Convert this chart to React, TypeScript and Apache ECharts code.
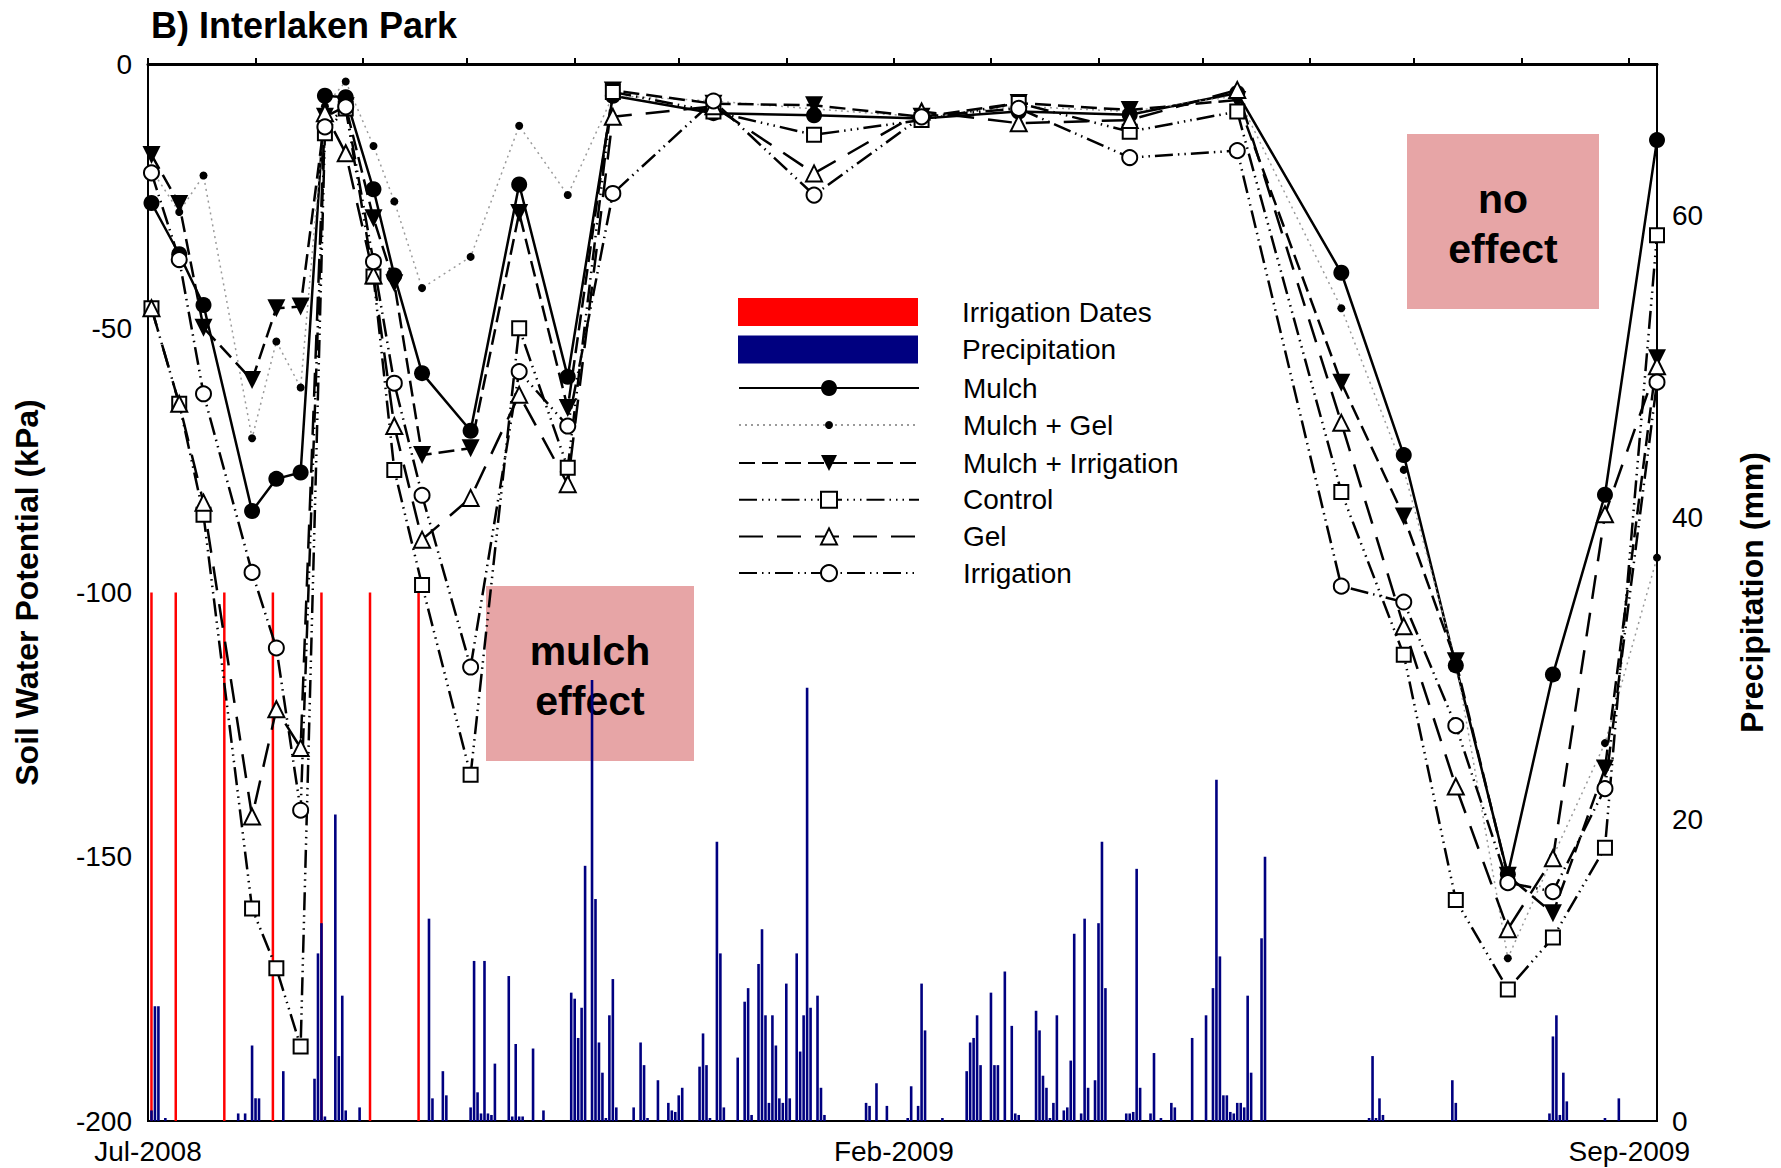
import React, { useEffect, useRef } from 'react';
import * as echarts from 'echarts';

// ---------- data ----------
const START_DATE = '2008-07-01';
const END_DATE = '2009-09-09';

const xLabelDates = ['2008-07-01', '2009-02-01', '2009-09-01'];
const xLabelTexts = ['Jul-2008', 'Feb-2009', 'Sep-2009'];

const measureDates = [
  '2008-07-02', '2008-07-10', '2008-07-17', '2008-07-31', '2008-08-07', '2008-08-14', '2008-08-21',
  '2008-08-27', '2008-09-04', '2008-09-10', '2008-09-18', '2008-10-02', '2008-10-16', '2008-10-30',
  '2008-11-12', '2008-12-11', '2009-01-09', '2009-02-09', '2009-03-09', '2009-04-10', '2009-05-11',
  '2009-06-10', '2009-06-28', '2009-07-13', '2009-07-28', '2009-08-10', '2009-08-25', '2009-09-09',
];

const mulch = [-26.3, -36, -45.6, -84.6, -78.5, -77.3, -6, -6.3, -23.7, -40, -58.5, -69.4, -22.8, -59.2,
  -6, -9.3, -9.7, -10.3, -9, -9.6, -5.5, -39.5, -74, -113.8, -153.3, -115.5, -81.5, -14.4];
const mulchGel = [-20, -28, -21.1, -70.8, -52.5, -61.2, -8, -3.3, -15.5, -26, -42.4, -36.5, -11.7, -24.8,
  -6, -7, -8.5, -10, -8, -9, -6, -46.2, -76.8, -113, -169.2, -150, -128.5, -93.4];
const mulchIrrigation = [-17.2, -26.5, -49.9, -59.8, -46.2, -45.9, -10, -8, -29.2, -41.5, -74, -72.7, -28.2, -65.1,
  -5, -7.5, -7.8, -10, -7.4, -8.7, -6.8, -60.3, -85.6, -113, -153.6, -160.7, -133.3, -55.7];
const control = [-46.2, -64.3, -85.3, -159.8, -171.1, -185.9, -13.1, -8.4, -40.2, -76.8, -98.6, -134.5, -50, -76.4,
  -5.3, -9, -13.4, -10.6, -7.4, -12.8, -9, -81, -111.8, -158.2, -175.1, -165.3, -148.3, -32.4];
const gel = [-46.2, -64.3, -83, -142.4, -122.1, -129.4, -9.3, -16.9, -40, -68.5, -90, -82.1, -62.6, -79.5,
  -10, -8, -20.7, -9, -11.2, -10.6, -4.9, -67.9, -106.4, -136.7, -163.7, -150.3, -85.2, -57.2];
const irrigation = [-20.6, -37, -62.4, -96.2, -110.5, -141.2, -11.9, -8.1, -37.4, -60.4, -81.6, -114.1, -58.2, -68.5,
  -24.5, -7, -24.8, -10, -8.4, -17.7, -16.4, -98.8, -101.8, -125.2, -154.9, -156.6, -137.1, -60.2];

const irrigationDates = ['2008-07-02', '2008-07-09', '2008-07-23', '2008-08-06', '2008-08-20', '2008-09-03', '2008-09-17'];
const irrigationLineTop = -100;
const irrigationLineBottom = -200;

// days after 2008-07-01
const precipDays = [1, 2, 3, 5, 26, 28, 30, 31, 32, 39, 48, 49, 50, 51, 54, 55, 56, 57, 61, 81, 82, 85, 86, 93, 94, 95, 96,
  97, 98, 99, 100, 104, 105, 106, 107, 108, 111, 114, 122, 123, 124, 125, 126, 128, 129, 130, 131, 132, 133, 134, 135,
  140, 142, 143, 144, 147, 150, 151, 152, 153, 154, 159, 160, 161, 162, 164, 165, 166, 170, 172, 173, 174, 176, 177, 178,
  179, 180, 181, 182, 183, 184, 185, 187, 188, 189, 190, 191, 193, 194, 195, 207, 208, 210, 213, 219, 220, 222, 223, 224,
  229, 236, 237, 238, 239, 240, 243, 244, 245, 247, 249, 250, 251, 256, 257, 258, 259, 260, 261, 262, 264, 265, 266, 267,
  269, 270, 271, 273, 274, 275, 276, 282, 283, 284, 285, 286, 289, 290, 292, 295, 296, 301, 305, 307, 308, 309, 310, 311,
  312, 313, 314, 315, 316, 317, 318, 321, 322, 352, 353, 354, 355, 356, 376, 377, 404, 405, 406, 407, 408, 409, 420, 424];
const precipMm = [0.7, 7.6, 7.6, 0.2, 0.5, 0.5, 5, 1.5, 1.5, 3.3, 2.8, 11.1, 13.1, 0.3, 20.3, 4.3, 8.3, 0.7, 0.9, 13.4, 1.5,
  3.3, 1.7, 0.9, 10.6, 1.9, 0.5, 10.6, 0.5, 0.4, 3.8, 9.6, 0.3, 5.1, 0.3, 0.3, 4.8, 0.7, 8.5, 8.1, 5.5, 7.5, 16.9, 29.2,
  14.7, 5.2, 3.2, 0.2, 7, 9.4, 0.9, 0.9, 5.2, 3.7, 0.2, 2.7, 1.2, 0.7, 0.6, 1.7, 2.2, 3.6, 5.8, 3.7, 0.2, 18.5, 11.1, 0.9,
  4.2, 7.9, 8.8, 0.4, 10.4, 12.7, 7, 1.2, 7, 5, 1.5, 1.2, 9.1, 1.5, 11.1, 4.6, 7, 28.7, 7.5, 8.3, 2.2, 0.4, 1.2, 1, 2.5,
  1, 0.2, 2.3, 1, 9.1, 6, 0.2, 3.3, 5.2, 5.5, 7, 3.7, 8.5, 3.7, 3.7, 9.9, 6.3, 0.5, 0.4, 7.3, 6, 3, 2.2, 0.2, 1.2, 7,
  0.7, 0.9, 4, 12.4, 0.5, 13.4, 2.2, 2.7, 13.1, 18.5, 8.8, 0.5, 0.5, 0.6, 16.7, 2.2, 0.5, 4.5, 0.2, 1.2, 0.9, 5.5, 7,
  8.8, 22.6, 10.9, 1.7, 1.7, 0.6, 0.5, 1.2, 1.2, 0.9, 8.3, 3.2, 12.1, 17.5, 0.2, 4.3, 0.2, 1.5, 0.4, 2.7, 1.2, 0.5, 5.6,
  7, 0.4, 3.2, 1.3, 0.2, 1.5];

// ---------- helpers ----------
const DAY_MS = 86400000;
const t0 = Date.parse(START_DATE + 'T00:00:00Z');
const dayOf = (s: string) => Math.round((Date.parse(s + 'T00:00:00Z') - t0) / DAY_MS);
const maxDay = dayOf(END_DATE);

const monthTicks: number[] = [];
for (let m = 0; m <= 14; m++) {
  monthTicks.push(Math.round((Date.UTC(2008, 6 + m, 1) - t0) / DAY_MS));
}
const xLabelDays = xLabelDates.map(dayOf);
const measureDays = measureDates.map(dayOf);
const pair = (vals: number[]) => measureDays.map((d, i) => [d, vals[i]]);

const FONT = '"Liberation Sans", Arial, Helvetica, sans-serif';

const lineSeries = (name: string, vals: number[], o: any) => ({
  name,
  type: 'line',
  data: pair(vals),
  yAxisIndex: 0,
  z: 3,
  showSymbol: true,
  symbol: o.symbol,
  symbolSize: o.size,
  symbolRotate: o.rotate || 0,
  lineStyle: { color: o.lineColor || '#000', width: o.width || 2.5, type: o.dash },
  itemStyle: o.open
    ? { color: '#ffffff', borderColor: '#000', borderWidth: 2 }
    : { color: '#000', borderColor: '#000', borderWidth: 0 },
  emphasis: { disabled: true },
});

export default function App() {
  const ref = useRef<HTMLDivElement>(null);

  useEffect(() => {
    if (!ref.current) return;
    const chart = echarts.init(ref.current, null, { renderer: 'svg' });

    const legendBase = {
      orient: 'vertical',
      left: 738,
      padding: 0,
      itemWidth: 180,
      selectedMode: false,
      textStyle: { fontSize: 28, color: '#000', fontFamily: FONT, lineHeight: 28, padding: [0, 0, 0, 39] },
    };

    const option: any = {
      animation: false,
      backgroundColor: '#ffffff',
      textStyle: { fontFamily: FONT },
      title: {
        text: 'B) Interlaken Park',
        left: 151,
        top: 7,
        padding: 0,
        textStyle: { fontSize: 36, fontWeight: 'bold', color: '#000', fontFamily: FONT },
      },
      grid: {
        left: 148, right: 124, top: 64, bottom: 47,
        show: true, borderColor: '#000', borderWidth: 2, backgroundColor: 'transparent',
      },
      legend: [
        {
          ...legendBase, top: 298, itemHeight: 28, itemGap: 9.5,
          data: [{ name: 'Irrigation Dates', icon: 'rect' }, { name: 'Precipitation', icon: 'rect' }],
        },
        { ...legendBase, top: 374, itemHeight: 20, data: ['Mulch'] },
        { ...legendBase, top: 411, itemHeight: 10, data: ['Mulch + Gel'] },
        {
          ...legendBase, top: 449, itemHeight: 20, itemGap: 8.7,
          data: ['Mulch + Irrigation', 'Control', 'Gel', 'Irrigation'],
        },
      ],
      xAxis: {
        type: 'value',
        min: 0,
        max: maxDay,
        axisLine: { show: true, lineStyle: { color: '#000', width: 3 } },
        axisTick: { show: true, inside: true, length: 6, lineStyle: { color: '#000', width: 2 }, customValues: monthTicks },
        axisLabel: {
          show: true,
          customValues: xLabelDays,
          formatter: (v: number) => {
            const i = xLabelDays.indexOf(Math.round(v));
            return i >= 0 ? xLabelTexts[i] : '';
          },
          fontSize: 28, color: '#000', margin: 16, fontFamily: FONT,
        },
        splitLine: { show: false },
      },
      yAxis: [
        {
          type: 'value', min: -200, max: 0, interval: 50, position: 'left',
          name: 'Soil Water Potential (kPa)', nameLocation: 'middle', nameRotate: 90, nameGap: 105,
          nameTextStyle: { fontSize: 32, fontWeight: 'bold', color: '#000', fontFamily: FONT },
          axisLine: { show: true, lineStyle: { color: '#000', width: 2 } },
          axisTick: { show: false },
          axisLabel: { fontSize: 28, color: '#000', margin: 16, fontFamily: FONT },
          splitLine: { show: false },
        },
        {
          type: 'value', min: 0, max: 70, interval: 20, position: 'right',
          name: 'Precipitation (mm)', nameLocation: 'middle', nameRotate: 90, nameGap: 79,
          nameTextStyle: { fontSize: 32, fontWeight: 'bold', color: '#000', fontFamily: FONT },
          axisLine: { show: true, lineStyle: { color: '#000', width: 2 } },
          axisTick: { show: false },
          axisLabel: { fontSize: 28, color: '#000', margin: 15, showMaxLabel: false, fontFamily: FONT },
          splitLine: { show: false },
        },
      ],
      graphic: [
        { type: 'rect', z: 0, shape: { x: 486, y: 586, width: 208, height: 175 }, style: { fill: '#E7A5A6' } },
        {
          type: 'text', z: 1, x: 590, y: 676,
          style: {
            text: 'mulch\neffect', fill: '#000', fontSize: 41, fontWeight: 'bold', fontFamily: FONT,
            align: 'center', verticalAlign: 'middle', textAlign: 'center', textVerticalAlign: 'middle', lineHeight: 50,
          },
        },
        { type: 'rect', z: 0, shape: { x: 1407, y: 134, width: 192, height: 175 }, style: { fill: '#E7A5A6' } },
        {
          type: 'text', z: 1, x: 1503, y: 224,
          style: {
            text: 'no\neffect', fill: '#000', fontSize: 41, fontWeight: 'bold', fontFamily: FONT,
            align: 'center', verticalAlign: 'middle', textAlign: 'center', textVerticalAlign: 'middle', lineHeight: 50,
          },
        },
      ],
      series: [
        {
          name: 'Precipitation',
          type: 'bar',
          yAxisIndex: 1,
          z: 2,
          barWidth: 2.6,
          data: precipDays.map((d, i) => [d, precipMm[i]]),
          itemStyle: { color: '#000080' },
          emphasis: { disabled: true },
        },
        {
          name: 'Irrigation Dates',
          type: 'custom',
          yAxisIndex: 0,
          z: 2,
          itemStyle: { color: '#ff0000' },
          data: irrigationDates.map((s) => [dayOf(s), irrigationLineTop, irrigationLineBottom]),
          encode: { x: 0, y: [1, 2] },
          renderItem: (params: any, api: any) => {
            const p1 = api.coord([api.value(0), api.value(1)]);
            const p2 = api.coord([api.value(0), api.value(2)]);
            return {
              type: 'line',
              shape: { x1: p1[0], y1: p1[1], x2: p2[0], y2: p2[1] },
              style: { stroke: '#ff0000', lineWidth: 2.5 },
            };
          },
        },
        lineSeries('Mulch', mulch, { symbol: 'circle', size: 16, dash: 'solid' }),
        lineSeries('Mulch + Gel', mulchGel, { symbol: 'circle', size: 8, dash: [2, 4], lineColor: '#9a9a9a', width: 1.5 }),
        lineSeries('Mulch + Irrigation', mulchIrrigation, { symbol: 'triangle', size: 18, rotate: 180, dash: [16, 7] }),
        lineSeries('Control', control, { symbol: 'rect', size: 14, open: true, dash: [18, 5, 1.5, 5, 1.5, 5, 1.5, 5] }),
        lineSeries('Gel', gel, { symbol: 'triangle', size: 16, open: true, dash: [24, 14] }),
        lineSeries('Irrigation', irrigation, { symbol: 'circle', size: 15, open: true, dash: [18, 5, 1.5, 5, 1.5, 5] }),
      ],
    };

    chart.setOption(option);
    return () => chart.dispose();
  }, []);

  return (
    <div
      ref={ref}
      style={{ position: 'absolute', left: 0, top: 0, width: 1781, height: 1168, background: '#ffffff' }}
    />
  );
}
